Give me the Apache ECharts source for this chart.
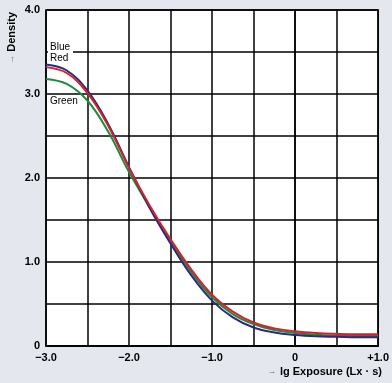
<!DOCTYPE html>
<html>
<head>
<meta charset="utf-8">
<script src="https://cdn.jsdelivr.net/npm/echarts@6/dist/echarts.min.js"></script>
<style>
html,body{margin:0;padding:0;background:#e5e7ef;}
#c{width:392px;height:383px;}
</style>
</head>
<body>
<div id="c"></div>
<script>
const exposure = [-3.0,-2.75,-2.5,-2.25,-2.0,-1.75,-1.5,-1.25,-1.0,-0.75,-0.5,-0.25,0,0.25,0.5,0.75,1.0];
const blue  = [3.35,3.28,3.04,2.64,2.13,1.64,1.22,0.84,0.54,0.34,0.22,0.16,0.13,0.115,0.11,0.105,0.105];
const red   = [3.32,3.25,3.01,2.62,2.12,1.67,1.27,0.91,0.61,0.41,0.28,0.21,0.175,0.155,0.145,0.14,0.14];
const green = [3.18,3.12,2.92,2.55,2.07,1.65,1.25,0.88,0.58,0.38,0.26,0.19,0.155,0.135,0.125,0.12,0.12];
const xTickValues = [-3,-2,-1,0,1];
const xTickLabels = ['\u22123.0','\u22122.0','\u22121.0','0','+1.0'];
const yTickValues = [0,1,2,3,4];
const yTickLabels = ['0','1.0','2.0','3.0','4.0'];

const pairs = a => exposure.map((x,i)=>[x,a[i]]);
const fmt = (vals, labs) => v => { const i = vals.findIndex(t => Math.abs(t - v) < 1e-9); return i >= 0 ? labs[i] : ''; };

const chart = echarts.init(document.getElementById('c'), null, {renderer:'canvas'});
const font = 'Liberation Sans, Arial, sans-serif';
chart.setOption({
  backgroundColor: '#e5e7ef',
  animation: false,
  grid: {left:46, top:10, width:336, height:336, show:true, backgroundColor:'#ffffff', borderColor:'#000', borderWidth:1.5},
  xAxis: {
    type:'value', min:-3, max:1, interval:0.5,
    axisLine:{show:true, lineStyle:{color:'#000', width:1.5}},
    axisTick:{show:false},
    splitLine:{show:true, lineStyle:{color:'#000', width:1.5}},
    axisLabel:{formatter: fmt(xTickValues, xTickLabels), color:'#000', fontWeight:'bold', fontSize:11, fontFamily:font, margin:6, showMinLabel:true, showMaxLabel:true}
  },
  yAxis: {
    type:'value', min:0, max:4, interval:0.5,
    axisLine:{show:true, lineStyle:{color:'#000', width:1.5}},
    axisTick:{show:false},
    splitLine:{show:true, lineStyle:{color:'#000', width:1.5}},
    axisLabel:{formatter: fmt(yTickValues, yTickLabels), color:'#000', fontWeight:'bold', fontSize:11, fontFamily:font, margin:6, showMinLabel:true, showMaxLabel:true}
  },
  series: [
    {name:'Green', type:'line', data:pairs(green), smooth:0.4, symbol:'none', lineStyle:{color:'#1d8a3e', width:2}},
    {name:'Blue', type:'line', data:pairs(blue), smooth:0.4, symbol:'none', lineStyle:{color:'#2b2a7c', width:2}},
    {name:'Red', type:'line', data:pairs(red), smooth:0.4, symbol:'none', lineStyle:{color:'#d2222c', width:2}}
  ],
  graphic: [
    {type:'text', left:48, top:41, z:100, style:{text:'Blue', fill:'#000', font:'10px Liberation Sans, Arial, sans-serif', backgroundColor:'#fff', padding:[1,3,2,2]}},
    {type:'text', left:50, top:53, z:100, style:{text:'Red', fill:'#000', font:'10px Liberation Sans, Arial, sans-serif'}},
    {type:'text', left:50, top:96, z:100, style:{text:'Green', fill:'#000', font:'10px Liberation Sans, Arial, sans-serif'}},
    {type:'text', x:12, y:38, rotation:Math.PI/2, z:100, style:{
      text:'{a|\u2192} {b|Density}', align:'center', verticalAlign:'middle',
      rich:{a:{fill:'#777', fontSize:9, fontFamily:font}, b:{fill:'#000', fontSize:11, fontWeight:'bold', fontFamily:font}}
    }},
    {type:'text', right:10, top:366, z:100, style:{
      text:'{a|\u2192} {b|lg Exposure (Lx \u00b7 s)}',
      rich:{a:{fill:'#777', fontSize:9, fontFamily:font}, b:{fill:'#000', fontSize:11, fontWeight:'bold', fontFamily:font}}
    }}
  ]
});
</script>
</body>
</html>
